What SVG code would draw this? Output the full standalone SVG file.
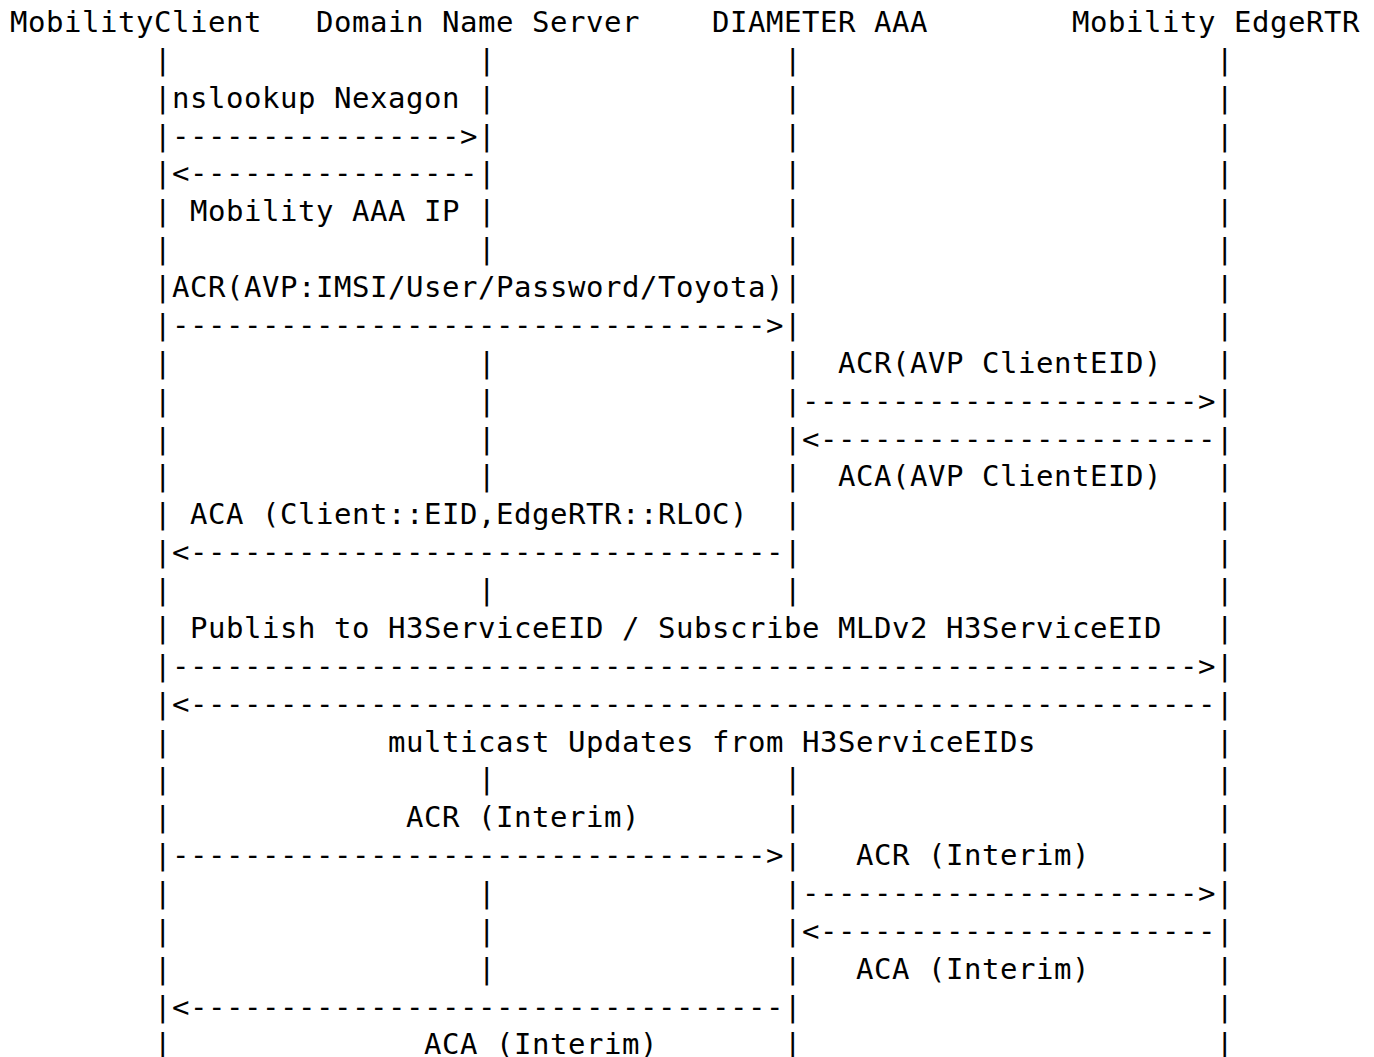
<svg xmlns="http://www.w3.org/2000/svg" width="1374" height="1057" viewBox="0 0 1374 1057">
<style>
.t{font-family:"DejaVu Sans Mono","Liberation Mono",monospace;font-size:29px;letter-spacing:0.542px;fill:#000;white-space:pre;}
</style>
<rect width="1374" height="1057" fill="#fff"/>
<g id="node-mobilityclient">
<text class="t" x="10" y="32">MobilityClient</text>
<text class="t"><tspan x="154" y="69.87">|</tspan><tspan x="154" y="107.74">|</tspan><tspan x="154" y="145.61">|</tspan><tspan x="154" y="183.48">|</tspan><tspan x="154" y="221.35">|</tspan><tspan x="154" y="259.22">|</tspan><tspan x="154" y="297.09">|</tspan><tspan x="154" y="334.96">|</tspan><tspan x="154" y="372.83">|</tspan><tspan x="154" y="410.7">|</tspan><tspan x="154" y="448.57">|</tspan><tspan x="154" y="486.44">|</tspan><tspan x="154" y="524.31">|</tspan><tspan x="154" y="562.18">|</tspan><tspan x="154" y="600.05">|</tspan><tspan x="154" y="637.92">|</tspan><tspan x="154" y="675.79">|</tspan><tspan x="154" y="713.66">|</tspan><tspan x="154" y="751.53">|</tspan><tspan x="154" y="789.4">|</tspan><tspan x="154" y="827.27">|</tspan><tspan x="154" y="865.14">|</tspan><tspan x="154" y="903.01">|</tspan><tspan x="154" y="940.88">|</tspan><tspan x="154" y="978.75">|</tspan><tspan x="154" y="1016.62">|</tspan><tspan x="154" y="1054.49">|</tspan></text>
</g>
<g id="node-dns">
<text class="t" x="316" y="32">Domain Name Server</text>
<text class="t"><tspan x="478" y="69.87">|</tspan><tspan x="478" y="107.74">|</tspan><tspan x="478" y="145.61">|</tspan><tspan x="478" y="183.48">|</tspan><tspan x="478" y="221.35">|</tspan><tspan x="478" y="259.22">|</tspan><tspan x="478" y="372.83">|</tspan><tspan x="478" y="410.7">|</tspan><tspan x="478" y="448.57">|</tspan><tspan x="478" y="486.44">|</tspan><tspan x="478" y="600.05">|</tspan><tspan x="478" y="789.4">|</tspan><tspan x="478" y="903.01">|</tspan><tspan x="478" y="940.88">|</tspan><tspan x="478" y="978.75">|</tspan></text>
</g>
<g id="node-aaa">
<text class="t" x="712" y="32">DIAMETER AAA</text>
<text class="t"><tspan x="784" y="69.87">|</tspan><tspan x="784" y="107.74">|</tspan><tspan x="784" y="145.61">|</tspan><tspan x="784" y="183.48">|</tspan><tspan x="784" y="221.35">|</tspan><tspan x="784" y="259.22">|</tspan><tspan x="784" y="297.09">|</tspan><tspan x="784" y="334.96">|</tspan><tspan x="784" y="372.83">|</tspan><tspan x="784" y="410.7">|</tspan><tspan x="784" y="448.57">|</tspan><tspan x="784" y="486.44">|</tspan><tspan x="784" y="524.31">|</tspan><tspan x="784" y="562.18">|</tspan><tspan x="784" y="600.05">|</tspan><tspan x="784" y="789.4">|</tspan><tspan x="784" y="827.27">|</tspan><tspan x="784" y="865.14">|</tspan><tspan x="784" y="903.01">|</tspan><tspan x="784" y="940.88">|</tspan><tspan x="784" y="978.75">|</tspan><tspan x="784" y="1016.62">|</tspan><tspan x="784" y="1054.49">|</tspan></text>
</g>
<g id="node-edgertr">
<text class="t" x="1072" y="32">Mobility EdgeRTR</text>
<text class="t"><tspan x="1216" y="69.87">|</tspan><tspan x="1216" y="107.74">|</tspan><tspan x="1216" y="145.61">|</tspan><tspan x="1216" y="183.48">|</tspan><tspan x="1216" y="221.35">|</tspan><tspan x="1216" y="259.22">|</tspan><tspan x="1216" y="297.09">|</tspan><tspan x="1216" y="334.96">|</tspan><tspan x="1216" y="372.83">|</tspan><tspan x="1216" y="410.7">|</tspan><tspan x="1216" y="448.57">|</tspan><tspan x="1216" y="486.44">|</tspan><tspan x="1216" y="524.31">|</tspan><tspan x="1216" y="562.18">|</tspan><tspan x="1216" y="600.05">|</tspan><tspan x="1216" y="637.92">|</tspan><tspan x="1216" y="675.79">|</tspan><tspan x="1216" y="713.66">|</tspan><tspan x="1216" y="751.53">|</tspan><tspan x="1216" y="789.4">|</tspan><tspan x="1216" y="827.27">|</tspan><tspan x="1216" y="865.14">|</tspan><tspan x="1216" y="903.01">|</tspan><tspan x="1216" y="940.88">|</tspan><tspan x="1216" y="978.75">|</tspan><tspan x="1216" y="1016.62">|</tspan><tspan x="1216" y="1054.49">|</tspan></text>
</g>
<g id="connectors">
<text class="t" x="172" y="107.74">nslookup Nexagon</text>
<text class="t" x="172" y="145.61">----------------&gt;</text>
<text class="t" x="172" y="183.48">&lt;----------------</text>
<text class="t" x="190" y="221.35">Mobility AAA IP</text>
<text class="t" x="172" y="297.09">ACR(AVP:IMSI/User/Password/Toyota)</text>
<text class="t" x="172" y="334.96">---------------------------------&gt;</text>
<text class="t" x="838" y="372.83">ACR(AVP ClientEID)</text>
<text class="t" x="802" y="410.7">----------------------&gt;</text>
<text class="t" x="802" y="448.57">&lt;----------------------</text>
<text class="t" x="838" y="486.44">ACA(AVP ClientEID)</text>
<text class="t" x="190" y="524.31">ACA (Client::EID,EdgeRTR::RLOC)</text>
<text class="t" x="172" y="562.18">&lt;---------------------------------</text>
<text class="t" x="190" y="637.92">Publish to H3ServiceEID / Subscribe MLDv2 H3ServiceEID</text>
<text class="t" x="172" y="675.79">---------------------------------------------------------&gt;</text>
<text class="t" x="172" y="713.66">&lt;---------------------------------------------------------</text>
<text class="t" x="388" y="751.53">multicast Updates from H3ServiceEIDs</text>
<text class="t" x="406" y="827.27">ACR (Interim)</text>
<text class="t" x="172" y="865.14">---------------------------------&gt;</text>
<text class="t" x="856" y="865.14">ACR (Interim)</text>
<text class="t" x="802" y="903.01">----------------------&gt;</text>
<text class="t" x="802" y="940.88">&lt;----------------------</text>
<text class="t" x="856" y="978.75">ACA (Interim)</text>
<text class="t" x="172" y="1016.62">&lt;---------------------------------</text>
<text class="t" x="424" y="1054.49">ACA (Interim)</text>
</g>
</svg>
